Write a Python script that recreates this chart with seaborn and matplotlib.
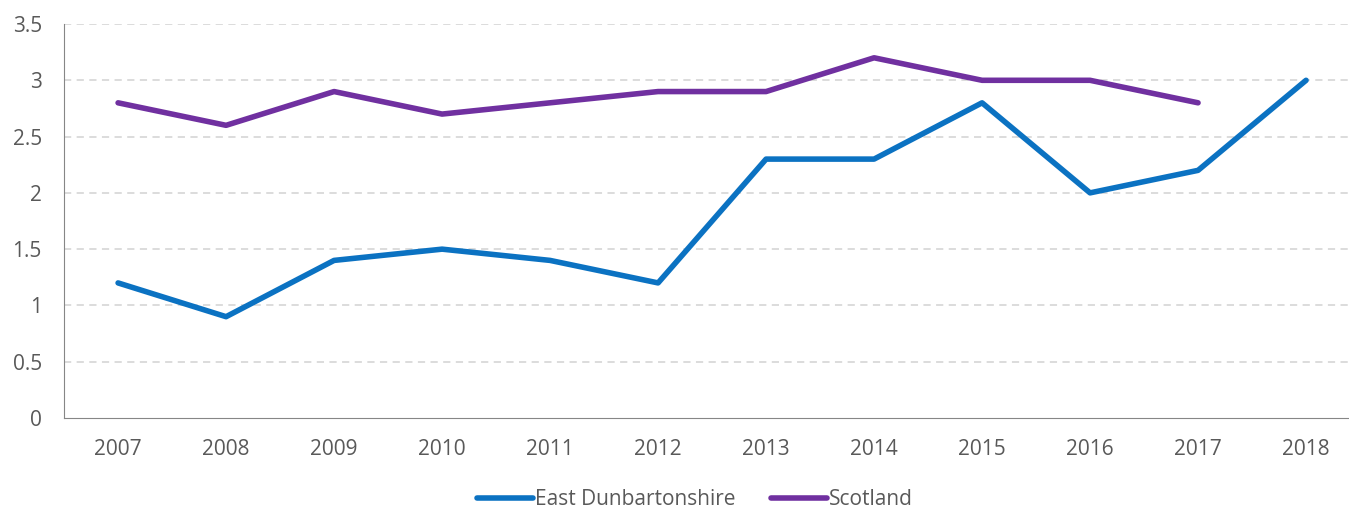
import numpy as np
import pandas as pd
import seaborn as sns
import matplotlib.pyplot as plt

years = ["2007", "2008", "2009", "2010", "2011", "2012", "2013", "2014", "2015", "2016", "2017", "2018"]
east_dunbartonshire = [1.2, 0.9, 1.4, 1.5, 1.4, 1.2, 2.3, 2.3, 2.8, 2.0, 2.2, 3.0]
scotland = [2.8, 2.6, 2.9, 2.7, 2.8, 2.9, 2.9, 3.2, 3.0, 3.0, 2.8, np.nan]

df = pd.DataFrame({
    "year": years * 2,
    "value": east_dunbartonshire + scotland,
    "area": ["East Dunbartonshire"] * len(years) + ["Scotland"] * len(years),
})

sns.set_style("white")
plt.rcParams['font.family'] = ['Open Sans', 'DejaVu Sans']

fig = plt.figure(figsize=(13.49, 5.11), dpi=100)
# plot area runs a bit past the right edge, like the original
ax = fig.add_axes([0.0475, 0.182, 0.9607, 0.771])

sns.lineplot(data=df, x="year", y="value", hue="area",
             palette={"East Dunbartonshire": "#0B72C2", "Scotland": "#7030A0"},
             linewidth=4, ax=ax, sort=False)

ax.set_xlim(-0.5, 11.5)
ax.set_ylim(0, 3.5)
ax.set_yticks(np.arange(0, 3.51, 0.5))
ax.set_yticklabels(["0", "0.5", "1", "1.5", "2", "2.5", "3", "3.5"])
for y in np.arange(0.5, 3.51, 0.5):
    ax.axhline(y, color="#D9D9D9", linestyle=(0, (4, 3)), linewidth=1.3, zorder=0)

for s in ["top", "right"]:
    ax.spines[s].set_visible(False)
ax.spines["left"].set_color("#868686")
ax.spines["bottom"].set_color("#868686")
ax.tick_params(axis="both", length=0, labelsize=15, colors="#595959")
ax.tick_params(axis="x", pad=15)
ax.tick_params(axis="y", pad=16)
ax.set_xlabel("")
ax.set_ylabel("")

ax.legend(loc="center", bbox_to_anchor=(0.515, 0.022), bbox_transform=fig.transFigure,
          ncol=2, frameon=False, fontsize=15, handlelength=2.7, handletextpad=0.1,
          columnspacing=1.7, labelcolor="#595959", borderpad=0.2)

fig.savefig("out.png", dpi=100)
